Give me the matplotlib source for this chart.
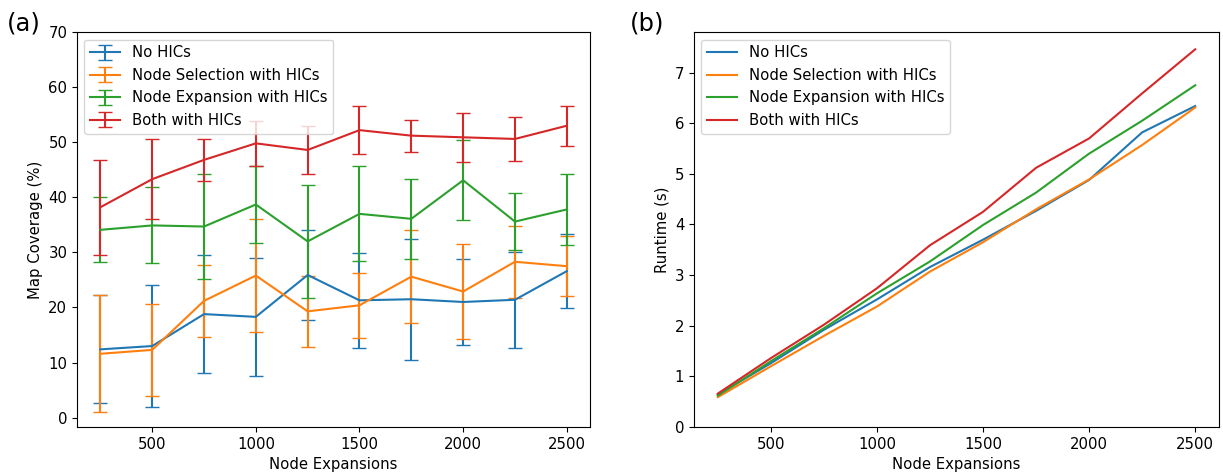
import numpy as np
import matplotlib
matplotlib.use("Agg")
import matplotlib.pyplot as plt

node_expansions = [250, 500, 750, 1000, 1250, 1500, 1750, 2000, 2250, 2500]
labels = ["No HICs", "Node Selection with HICs", "Node Expansion with HICs", "Both with HICs"]

cov_no = [12.4, 13.0, 18.8, 18.3, 25.9, 21.3, 21.5, 21.0, 21.4, 26.6]
err_no = [9.8, 11.1, 10.7, 10.7, 8.2, 8.6, 11.0, 7.8, 8.7, 6.7]
cov_sel = [11.6, 12.3, 21.2, 25.8, 19.3, 20.4, 25.6, 22.9, 28.3, 27.5]
err_sel = [10.6, 8.4, 6.5, 10.2, 6.4, 5.9, 8.5, 8.7, 6.5, 5.4]
cov_exp = [34.1, 34.9, 34.7, 38.7, 32.0, 37.0, 36.1, 43.1, 35.6, 37.8]
err_exp = [5.9, 6.9, 9.5, 6.9, 10.2, 8.6, 7.3, 7.3, 5.1, 6.5]
cov_both = [38.2, 43.3, 46.8, 49.8, 48.6, 52.2, 51.2, 50.9, 50.6, 53.0]
err_both = [8.6, 7.3, 3.8, 4.1, 4.4, 4.4, 2.9, 4.5, 4.0, 3.6]

rt_no = [0.64, 1.26, 1.92, 2.52, 3.16, 3.70, 4.27, 4.88, 5.82, 6.34]
rt_sel = [0.59, 1.20, 1.80, 2.38, 3.07, 3.65, 4.30, 4.89, 5.57, 6.31]
rt_exp = [0.62, 1.30, 1.95, 2.64, 3.27, 3.99, 4.63, 5.40, 6.05, 6.75]
rt_both = [0.66, 1.36, 2.02, 2.74, 3.59, 4.25, 5.12, 5.70, 6.59, 7.46]

colors = ["#1f77b4", "#ff7f0e", "#2ca02c", "#d62728"]
fs = 10.7

fig = plt.figure(figsize=(12.23, 4.72), dpi=100)
ax1 = fig.add_axes([0.063, 0.0953, 0.4195, 0.8367])
ax2 = fig.add_axes([0.5674, 0.0953, 0.4294, 0.8367])

for m, e, c, l in zip([cov_no, cov_sel, cov_exp, cov_both],
                      [err_no, err_sel, err_exp, err_both], colors, labels):
    ax1.errorbar(node_expansions, m, yerr=e, color=c, label=l, capsize=5, lw=1.5)
ax1.set_ylim(-1.7, 70)
ax1.set_yticks(range(0, 71, 10))
ax1.set_xticks([500, 1000, 1500, 2000, 2500])
ax1.set_xlabel("Node Expansions", fontsize=fs)
ax1.set_ylabel("Map Coverage (%)", fontsize=fs)
ax1.legend(loc="upper left", fontsize=fs)

for r, c, l in zip([rt_no, rt_sel, rt_exp, rt_both], colors, labels):
    ax2.plot(node_expansions, r, color=c, label=l, lw=1.5)
ax2.set_ylim(0, 7.8)
ax2.set_xticks([500, 1000, 1500, 2000, 2500])
ax2.set_xlabel("Node Expansions", fontsize=fs)
ax2.set_ylabel("Runtime (s)", fontsize=fs)
ax2.legend(loc="upper left", fontsize=fs)

for ax in (ax1, ax2):
    ax.tick_params(labelsize=fs)

fig.text(0.006, 0.975, "(a)", fontsize=17.5, va="top", ha="left")
fig.text(0.515, 0.975, "(b)", fontsize=17.5, va="top", ha="left")

fig.savefig("out.png", dpi=100)
